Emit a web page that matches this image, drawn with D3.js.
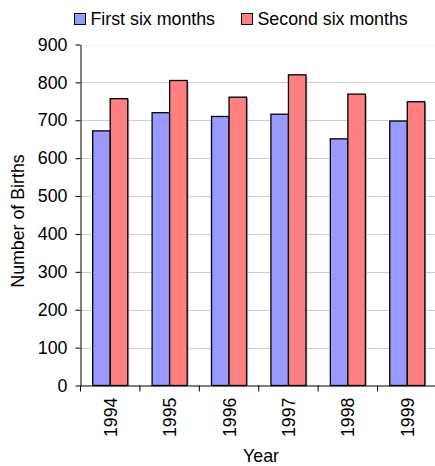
<!DOCTYPE html>
<html><head><meta charset="utf-8">
<script src="https://cdn.jsdelivr.net/npm/d3@7"></script>
<style>body{margin:0;background:#fff}svg{display:block}text{font-family:"Liberation Sans",Arial,sans-serif;fill:#000}</style>
</head><body>
<svg id="c" width="435" height="466"></svg>
<script>
const years = ["1994","1995","1996","1997","1998","1999"];
const seriesNames = ["First six months","Second six months"];
const firstHalf = [672, 720, 710, 716, 651, 698];
const secondHalf = [757, 805, 761, 820, 769, 749];
const yTicks = [0,100,200,300,400,500,600,700,800,900];
const colors = ["#9999ff","#ff8080"];

(function(){
const FS = "17.8px";
const svg = d3.select("#c");
const pL = 80.5, pR = 437, pT = 44.5, pB = 385.5;
const x = d3.scaleBand().domain(years).range([pL, pR]).paddingInner(0).paddingOuter(0);
const y = d3.scaleLinear().domain([0,900]).range([pB, pT]);
const groupW = x.bandwidth()*0.59;
const xs = d3.scaleBand().domain(seriesNames).range([0, groupW]);

// gridlines
svg.append("g").selectAll("line").data(yTicks.filter(d=>d>0)).join("line")
  .attr("x1", pL).attr("x2", pR)
  .attr("y1", d=>Math.round(y(d))+0.5).attr("y2", d=>Math.round(y(d))+0.5)
  .attr("stroke", d=> d===900 ? "#efefef" : "#cfcfcf").attr("stroke-width",1);

const data = years.map((yr,i)=>({year:yr, vals:[firstHalf[i], secondHalf[i]]}));
const g = svg.append("g").selectAll("g").data(data).join("g")
  .attr("transform", d=>`translate(${x(d.year)+(x.bandwidth()-groupW)/2},0)`);
g.selectAll("rect.sh").data(d=>d.vals.map((v,k)=>({v,k}))).join("rect").attr("class","sh")
  .attr("x", d=>xs(seriesNames[d.k])+1.5).attr("y", d=>y(d.v)+1.5)
  .attr("width", xs.bandwidth()).attr("height", d=>pB-y(d.v)-1.5)
  .attr("fill","#bbbbbb");
g.selectAll("rect.b").data(d=>d.vals.map((v,k)=>({v,k}))).join("rect").attr("class","b")
  .attr("x", d=>xs(seriesNames[d.k])).attr("y", d=>y(d.v))
  .attr("width", xs.bandwidth()).attr("height", d=>pB-y(d.v))
  .attr("fill", d=>colors[d.k]).attr("stroke","#000").attr("stroke-width",1.3);

// y axis
const ya = svg.append("g").attr("transform",`translate(${pL},0)`)
  .call(d3.axisLeft(y).tickValues(yTicks).tickSize(5).tickSizeOuter(0).tickPadding(8));
ya.select(".domain").attr("stroke","#000");
ya.selectAll(".tick line").attr("stroke","#000");
ya.selectAll("text").attr("font-size",FS).attr("font-family","Liberation Sans, Arial, sans-serif");

// x axis
const xa = svg.append("g").attr("transform",`translate(0,${pB})`)
  .call(d3.axisBottom(x).tickSize(0).tickSizeOuter(0));
xa.select(".domain").attr("stroke","#000");
xa.selectAll(".tick text").remove();
xa.selectAll(".tick line").remove();
svg.append("g").selectAll("line").data(years).join("line")
  .attr("x1",d=>x(d)).attr("x2",d=>x(d)).attr("y1",pB).attr("y2",pB+6)
  .attr("stroke","#000");
svg.append("g").selectAll("text").data(years).join("text")
  .attr("transform", d=>`translate(${x(d)+x.bandwidth()/2+6.5},${pB+12}) rotate(-90)`)
  .attr("text-anchor","end").attr("font-size",FS).text(d=>d);

// axis titles
svg.append("text").attr("x", 261).attr("y", 462).attr("text-anchor","middle")
  .attr("font-size",FS).text("Year");
svg.append("text").attr("transform",`translate(23.5,${221}) rotate(-90)`)
  .attr("text-anchor","middle").attr("font-size",FS).text("Number of Births");

// legend
const leg = svg.append("g");
const legX = [74.5, 241.5];
seriesNames.forEach((n,i)=>{
  leg.append("rect").attr("x", legX[i]).attr("y", 13.5).attr("width",11).attr("height",11)
    .attr("fill", colors[i]).attr("stroke","#000").attr("stroke-width",1);
  leg.append("text").attr("x", legX[i]+16).attr("y", 25).attr("font-size",FS).text(n);
});
})();
</script>
</body></html>
